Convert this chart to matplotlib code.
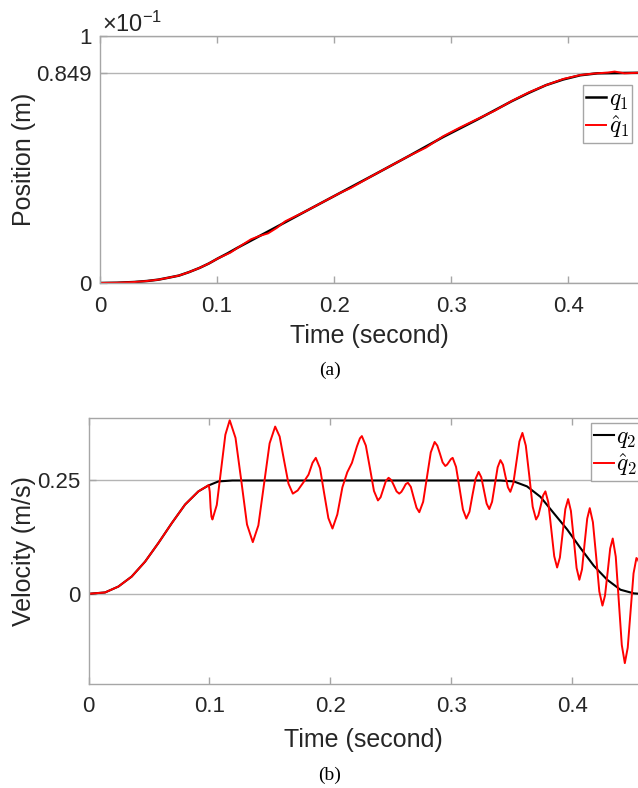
import matplotlib
matplotlib.use("Agg")
import matplotlib.pyplot as plt
from matplotlib.font_manager import FontProperties

plt.rcParams["font.family"] = ["Liberation Sans", "DejaVu Sans"]
plt.rcParams["mathtext.fontset"] = "custom"
plt.rcParams["mathtext.rm"] = "Liberation Sans"
plt.rcParams["mathtext.it"] = "Liberation Sans:italic"

# (a) position, in units of 1e-1 m
t_q1 = [0, 0.0146, 0.0293, 0.040, 0.0498, 0.058, 0.0674, 0.076, 0.085,
        0.093, 0.1005, 0.109, 0.1172, 0.1465, 0.1759, 0.2052, 0.2345,
        0.2638, 0.2931, 0.3224, 0.3517, 0.3664, 0.381, 0.3957, 0.4103,
        0.425, 0.4596]
q1 = [0, 0.001, 0.004, 0.008, 0.0135, 0.021, 0.030, 0.044, 0.061, 0.079,
      0.099, 0.120, 0.142, 0.216, 0.291, 0.365, 0.439, 0.514, 0.591, 0.662,
      0.736, 0.770, 0.801, 0.824, 0.841, 0.849, 0.851]
t_q1_hat = [0, 0.0146, 0.0293, 0.040, 0.0498, 0.058, 0.0674, 0.076, 0.085,
            0.093, 0.1005, 0.1114, 0.1200, 0.129, 0.1360, 0.1436, 0.1510,
            0.1583, 0.1759, 0.2052, 0.2140, 0.2345, 0.2638, 0.2784, 0.2931,
            0.3077, 0.3224, 0.3370, 0.3517, 0.3664, 0.381, 0.3957, 0.4103,
            0.4220, 0.4340, 0.4396, 0.4480, 0.4596]
q1_hat = [0, 0.001, 0.004, 0.008, 0.0135, 0.021, 0.030, 0.044, 0.061, 0.079,
          0.099, 0.123, 0.150, 0.177, 0.190, 0.201, 0.223, 0.250, 0.291,
          0.365, 0.384, 0.439, 0.514, 0.548, 0.594, 0.630, 0.664, 0.697,
          0.737, 0.772, 0.801, 0.826, 0.842, 0.848, 0.852, 0.856, 0.849,
          0.851]

# (b) velocity, m/s
t_q2 = [0, 0.0137, 0.0247, 0.0357, 0.0468, 0.0578, 0.0689, 0.0799, 0.0909,
        0.0992, 0.1075, 0.119, 0.3406, 0.3517, 0.3627, 0.3738, 0.3848,
        0.3959, 0.4069, 0.4179, 0.429, 0.44, 0.451, 0.456]
q2 = [0, 0.003, 0.016, 0.038, 0.071, 0.112, 0.156, 0.197, 0.226, 0.239,
      0.248, 0.25, 0.25, 0.248, 0.237, 0.214, 0.178, 0.142, 0.101, 0.062,
      0.031, 0.009, 0.001, 0]
t_q2_hat = [
    0, 0.0137, 0.0247, 0.0357, 0.0468, 0.0578, 0.0689, 0.0799, 0.0909,
    0.0995, 0.1003, 0.1010, 0.1017, 0.1025,
    0.1061, 0.1097, 0.1132, 0.1168,
    0.1216, 0.1264, 0.1311, 0.1359,
    0.1405, 0.1452, 0.1498, 0.1544,
    0.1581, 0.1617, 0.1654, 0.1690,
    0.1730, 0.1778, 0.1820, 0.1853, 0.1880,
    0.1915, 0.1949, 0.1984, 0.2018,
    0.2058, 0.2100, 0.2140, 0.2179, 0.2220, 0.2245, 0.2261,
    0.2294, 0.2328, 0.2361, 0.2394,
    0.2416, 0.2438, 0.2460, 0.2482,
    0.2504, 0.2526, 0.2548, 0.2570,
    0.2588, 0.2606, 0.2624, 0.2642,
    0.2666, 0.2689, 0.2713, 0.2736,
    0.2768, 0.2800, 0.2831, 0.2863,
    0.2885, 0.2907, 0.2929, 0.2951,
    0.2966, 0.2982, 0.2997, 0.3012,
    0.3040, 0.3069, 0.3097, 0.3125,
    0.3151, 0.3176, 0.3202, 0.3227,
    0.3249, 0.3271, 0.3293, 0.3315,
    0.3338, 0.3361, 0.3384, 0.3407,
    0.3428, 0.3448, 0.3469, 0.3489,
    0.3514, 0.3539, 0.3564, 0.3589,
    0.3617, 0.3646, 0.3674, 0.3702,
    0.3721, 0.3741, 0.3760, 0.3779,
    0.3803, 0.3828, 0.3852, 0.3876,
    0.3899, 0.3922, 0.3944, 0.3967,
    0.3990, 0.4014, 0.4037, 0.4060,
    0.4082, 0.4103, 0.4125, 0.4146,
    0.4172, 0.4199, 0.4225, 0.4251,
    0.4272, 0.4294, 0.4315, 0.4336,
    0.4361, 0.4386, 0.4411, 0.4436,
    0.4460, 0.4484, 0.4508, 0.4532,
    0.4545, 0.4560]
q2_hat = [
    0, 0.003, 0.016, 0.038, 0.071, 0.112, 0.156, 0.197, 0.226,
    0.240, 0.225, 0.190, 0.170, 0.164,
    0.196, 0.274, 0.351, 0.383,
    0.344, 0.249, 0.153, 0.114,
    0.151, 0.242, 0.332, 0.369,
    0.347, 0.295, 0.243, 0.221,
    0.228, 0.246, 0.263, 0.289, 0.300,
    0.277, 0.222, 0.167, 0.144,
    0.175, 0.235, 0.268, 0.289, 0.325, 0.343, 0.348,
    0.327, 0.277, 0.227, 0.206,
    0.213, 0.231, 0.249, 0.256,
    0.251, 0.239, 0.226, 0.221,
    0.225, 0.233, 0.242, 0.245,
    0.236, 0.213, 0.190, 0.180,
    0.203, 0.258, 0.312, 0.335,
    0.327, 0.309, 0.290, 0.282,
    0.285, 0.291, 0.297, 0.300,
    0.280, 0.233, 0.186, 0.166,
    0.181, 0.218, 0.254, 0.269,
    0.257, 0.228, 0.199, 0.187,
    0.203, 0.241, 0.279, 0.295,
    0.285, 0.260, 0.235, 0.225,
    0.244, 0.290, 0.336, 0.355,
    0.327, 0.260, 0.192, 0.164,
    0.173, 0.195, 0.217, 0.226,
    0.202, 0.142, 0.083, 0.058,
    0.080, 0.134, 0.187, 0.209,
    0.183, 0.120, 0.057, 0.031,
    0.054, 0.110, 0.166, 0.189,
    0.158, 0.082, 0.005, -0.026,
    -0.004, 0.048, 0.100, 0.122,
    0.082, -0.016, -0.113, -0.153,
    -0.119, -0.037, 0.045, 0.079,
    0.075, 0.065]

spine_col = "#a6a6a6"
text_col = "#262626"
W, H = 638, 788

fig = plt.figure(figsize=(W / 100, H / 100), dpi=100)
ax1 = fig.add_axes([100 / W, 1 - 283 / H, 538 / W, 247 / H])
ax2 = fig.add_axes([88.5 / W, 1 - 684 / H, 549.5 / W, 266.5 / H])

ax1.plot(t_q1, q1, color="black", lw=1.8, label=r"$q_1$")
ax1.plot(t_q1_hat, q1_hat, color="red", lw=1.4, label=r"$\hat{q}_1$")
ax1.set_xlim(0, 0.4596)
ax1.set_ylim(0, 1)
ax1.set_yticks([0, 0.849, 1])
ax1.set_yticklabels(["0", "0.849", "1"])
ax1.set_ylabel("Position (m)")
ax1.yaxis.set_label_coords(-0.142, 0.5)
ax1.xaxis.set_label_coords(0.502, -0.215)
fig.text(102 / W, 1 - 32 / H, r"$\times10^{-1}$", fontsize=17,
         color=text_col, ha="left", va="baseline")

ax2.plot(t_q2, q2, color="black", lw=1.5, label=r"$q_2$")
ax2.plot(t_q2_hat, q2_hat, color="red", lw=1.4, label=r"$\hat{q}_2$")
ax2.set_xlim(0, 0.4545)
ax2.set_ylim(-0.199, 0.389)
ax2.set_yticks([0, 0.25])
ax2.set_yticklabels(["0", "0.25"])
ax2.set_ylabel("Velocity (m/s)")
ax2.yaxis.set_label_coords(-0.118, 0.5)
ax2.xaxis.set_label_coords(0.5, -0.21)

for ax in (ax1, ax2):
    ax.set_xticks([0, 0.1, 0.2, 0.3, 0.4])
    ax.set_xticklabels(["0", "0.1", "0.2", "0.3", "0.4"])
    ax.set_xlabel("Time (second)")
    ax.xaxis.label.set_va("center")
    ax.yaxis.label.set_va("center")
    for lab in (ax.xaxis.label, ax.yaxis.label):
        lab.set_fontsize(18)
        lab.set_color(text_col)
    ax.tick_params(direction="in", length=5, width=1, colors=spine_col,
                   labelcolor=text_col, labelsize=16, top=True)
    ax.tick_params(axis="x", pad=9)
    ax.tick_params(axis="y", pad=6)
    ax.grid(axis="y", color="#b4b4b4", lw=1)
    ax.set_axisbelow(True)
    for side in ("left", "bottom", "top"):
        ax.spines[side].set_color(spine_col)
        ax.spines[side].set_linewidth(1)
    ax.spines["right"].set_visible(False)

leg_font = FontProperties(size=17, math_fontfamily="cm")
leg_kw = dict(loc="upper right", bbox_transform=fig.transFigure,
              prop=leg_font, handlelength=0.85, handletextpad=0.1,
              borderpad=0.12, labelspacing=0.05, borderaxespad=0,
              fancybox=False, framealpha=1)
leg1 = ax1.legend(bbox_to_anchor=(632 / W, 1 - 85 / H), **leg_kw)
leg2 = ax2.legend(bbox_to_anchor=(640 / W, 1 - 423 / H), **leg_kw)
for leg in (leg1, leg2):
    leg.get_frame().set_edgecolor(spine_col)
    leg.get_frame().set_linewidth(1)

fig.text(330 / W, 1 - 370 / H, "(a)", family="Liberation Serif", fontsize=14,
         ha="center", va="center", color="black")
fig.text(330 / W, 1 - 775 / H, "(b)", family="Liberation Serif", fontsize=14,
         ha="center", va="center", color="black")

fig.savefig("out.png", dpi=100)
